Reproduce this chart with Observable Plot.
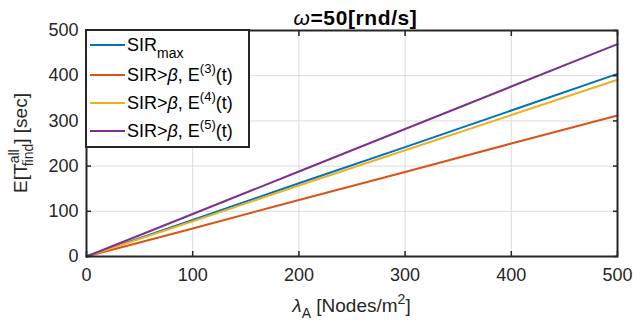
<!DOCTYPE html>
<html><head><meta charset="utf-8">
<script src="https://cdn.jsdelivr.net/npm/d3@7"></script>
<script src="https://cdn.jsdelivr.net/npm/@observablehq/plot@0.6"></script>
<style>
html,body{margin:0;padding:0;background:#fff;}
svg{display:block;}
</style>
</head><body>
<div id="chart"></div>
<script>
const lambdaA = [0, 100, 200, 300, 400, 500];
const sirMax = [0, 81, 162, 242, 323, 404];
const sirE3 = [0, 62, 125, 187, 250, 312];
const sirE4 = [0, 78, 157, 235, 313, 391];
const sirE5 = [0, 94, 188, 282, 376, 470];
const seriesNames = ["SIRmax", "E3", "E4", "E5"];
const seriesColors = ["#0072BD", "#D95319", "#EDB120", "#7E2F8E"];
const xTicks = [0, 100, 200, 300, 400, 500];
const yTicks = [0, 100, 200, 300, 400, 500];

const seriesValues = [sirMax, sirE3, sirE4, sirE5];
const rows = seriesValues.flatMap((vals, i) => vals.map((v, j) => ({x: lambdaA[j], y: v, s: seriesNames[i]})));

const font = "'Liberation Sans', Helvetica, Arial, sans-serif";
const axisColor = "#262626";

const chart = Plot.plot({
  width: 633, height: 320,
  marginLeft: 86, marginRight: 16, marginTop: 30, marginBottom: 64,
  style: {fontFamily: font, fontSize: "18px", color: axisColor, background: "#fff"},
  x: {domain: [0, 500], label: null},
  y: {domain: [0, 500], label: null},
  color: {domain: seriesNames, range: seriesColors},
  marks: [
    Plot.gridX(xTicks, {stroke: "#dcdcdc", strokeOpacity: 1, strokeWidth: 1}),
    Plot.gridY(yTicks, {stroke: "#dcdcdc", strokeOpacity: 1, strokeWidth: 1}),
    Plot.line(rows, {x: "x", y: "y", z: "s", stroke: "s", strokeWidth: 2}),
    Plot.axisX(xTicks, {anchor: "bottom", tickSize: -5, text: null, stroke: axisColor, strokeWidth: 1.5}),
    Plot.axisX(xTicks, {anchor: "top", tickSize: -5, text: null, stroke: axisColor, strokeWidth: 1.5, label: null}),
    Plot.axisY(yTicks, {anchor: "left", tickSize: -5, text: null, stroke: axisColor, strokeWidth: 1.5}),
    Plot.axisY(yTicks, {anchor: "right", tickSize: -5, text: null, stroke: axisColor, strokeWidth: 1.5, label: null}),
    Plot.axisX(xTicks, {anchor: "bottom", tickSize: 0, tickPadding: 12, fill: axisColor, label: null}),
    Plot.axisY(yTicks, {anchor: "left", tickSize: 0, tickPadding: 8, fill: axisColor, label: null}),
    Plot.frame({stroke: axisColor, strokeWidth: 2})
  ]
});

document.getElementById("chart").appendChild(chart);

const svg = d3.select(chart);
const L = 86, R = 617, T = 30, B = 256;
const cx = (L + R) / 2;

// Title
const title = svg.append("text")
  .attr("x", cx + 4).attr("y", 25)
  .attr("text-anchor", "middle")
  .attr("font-family", font).attr("font-size", 21).attr("font-weight", "bold")
  .attr("letter-spacing", 0.6)
  .attr("fill", "#000");
title.append("tspan").attr("font-style", "italic").attr("font-weight", "normal").text("ω");
title.append("tspan").text("=50[rnd/s]");

// X label
const xl = svg.append("text")
  .attr("x", cx).attr("y", 312)
  .attr("text-anchor", "middle")
  .attr("font-family", font).attr("font-size", 19)
  .attr("fill", axisColor);
xl.append("tspan").attr("font-style", "italic").text("λ");
xl.append("tspan").attr("font-size", 14).attr("dy", 6).text("A");
xl.append("tspan").attr("dy", -6).text(" [Nodes/m");
xl.append("tspan").attr("font-size", 14).attr("dy", -8).text("2");
xl.append("tspan").attr("dy", 8).text("]");

// Y label
const yl = svg.append("text")
  .attr("transform", `translate(27,${(T + B) / 2}) rotate(-90)`)
  .attr("text-anchor", "middle")
  .attr("font-family", font).attr("font-size", 19)
  .attr("fill", axisColor);
yl.append("tspan").text("E[T");
yl.append("tspan").attr("font-size", 14).attr("dy", -8).text("all");
yl.append("tspan").attr("font-size", 14).attr("dx", -17).attr("dy", 14).text("find");
yl.append("tspan").attr("dy", -6).text("] [sec]");

// Legend
const lg = svg.append("g").attr("text-anchor", "start");
lg.append("rect").attr("x", L).attr("y", T).attr("width", 163).attr("height", 117)
  .attr("fill", "#fff").attr("stroke", axisColor).attr("stroke-width", 2);
const legendY = [45, 75, 103, 131];
seriesNames.forEach((name, i) => {
  const y = legendY[i];
  lg.append("line").attr("x1", 90).attr("x2", 125).attr("y1", y).attr("y2", y)
    .attr("stroke", seriesColors[i]).attr("stroke-width", 2);
  const t = lg.append("text").attr("x", 127).attr("y", y + 6)
    .attr("text-anchor", "start")
    .attr("font-family", font).attr("font-size", 18).attr("fill", "#000");
  if (i === 0) {
    t.append("tspan").text("SIR");
    t.append("tspan").attr("font-size", 14).attr("dy", 7).text("max");
  } else {
    t.append("tspan").text("SIR>");
    t.append("tspan").attr("font-style", "italic").text("β");
    t.append("tspan").text(", E");
    t.append("tspan").attr("font-size", 13).attr("dy", -8).text("(" + (i + 2) + ")");
    t.append("tspan").attr("dy", 8).text("(t)");
  }
});
</script>
</body></html>
